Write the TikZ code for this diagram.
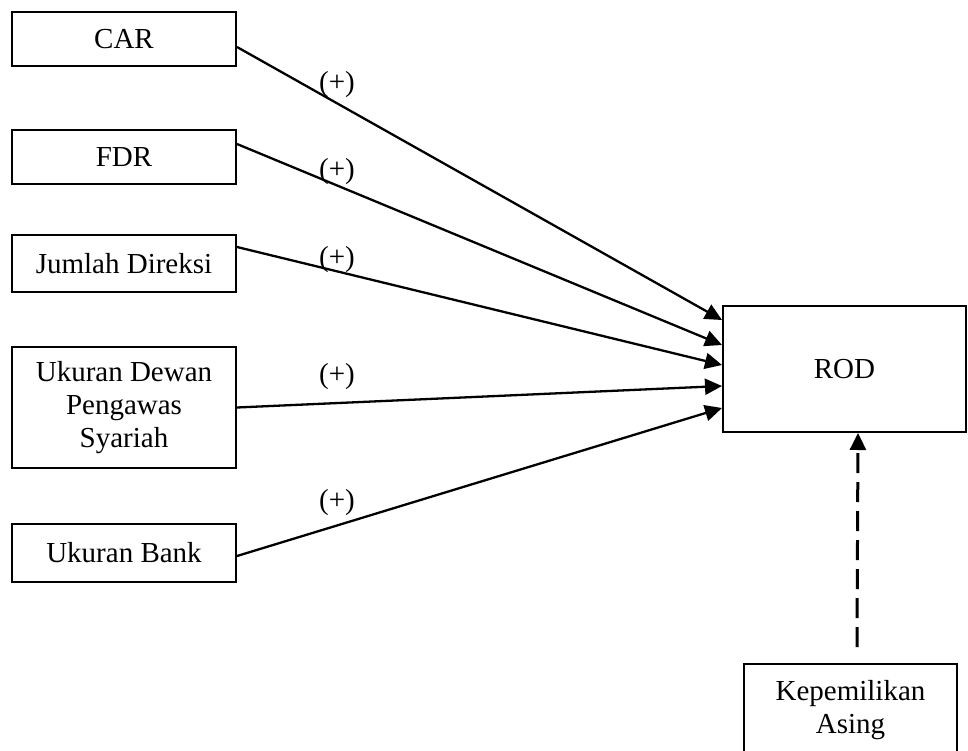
\documentclass[tikz,border=0pt]{standalone}
\usepackage{fontspec}
\setmainfont{Liberation Serif}
\usetikzlibrary{arrows.meta}
\begin{document}
\begin{tikzpicture}[x=1pt,y=-1pt,
  box/.style={draw,line width=2pt,align=center,inner sep=0pt,font=\fontsize{29}{33}\selectfont},
  conn/.style={line width=2.3pt,-{Triangle[length=17pt,width=16pt]}},
  lbl/.style={font=\fontsize{29}{33}\selectfont,inner sep=0pt}]
\useasboundingbox (0,0) rectangle (968,751);
\node[box,minimum width=224pt,minimum height=54pt] (car) at (124,39) {CAR};
\node[box,minimum width=224pt,minimum height=54pt] (fdr) at (124,157) {FDR};
\node[box,minimum width=224pt,minimum height=57pt] (jd) at (124,263.5) {Jumlah Direksi};
\node[box,minimum width=224pt,minimum height=121pt] (udps) at (124,407.5) {Ukuran Dewan\\Pengawas\\Syariah};
\node[box,minimum width=224pt,minimum height=58pt] (ub) at (124,553) {Ukuran Bank};
\node[box,minimum width=243pt,minimum height=126pt] (rod) at (844.5,369) {ROD};
\node[box,minimum width=213pt,minimum height=92pt] (ka) at (850.5,710) {Kepemilikan\\Asing};
\draw[conn] ([yshift=-8pt]car.east) -- ([yshift=49pt]rod.west);
\draw[conn] ([yshift=13pt]fdr.east) -- ([yshift=24pt]rod.west);
\draw[conn] ([yshift=16.5pt]jd.east) -- ([yshift=4pt]rod.west);
\draw[conn] (udps.east) -- ([yshift=-17pt]rod.west);
\draw[conn] ([yshift=-3pt]ub.east) -- ([yshift=-39pt]rod.west);
\draw[conn,line width=3pt,dash pattern=on 20pt off 9pt] ([xshift=6.5pt,yshift=16pt]ka.north) -- ([xshift=13.5pt]rod.south);
\node[lbl] (l1) at (337,85) {(+)};
\node[lbl] (l2) at (337,172) {(+)};
\node[lbl] (l3) at (337,260) {(+)};
\node[lbl] (l4) at (337,377) {(+)};
\node[lbl] (l5) at (337,503) {(+)};
\end{tikzpicture}
\end{document}
